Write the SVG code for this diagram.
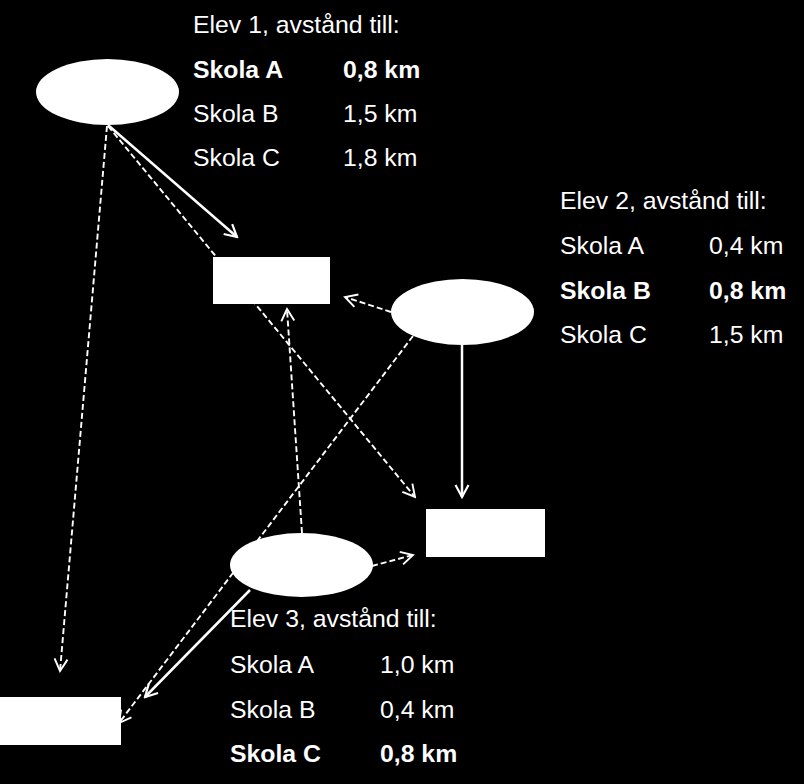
<svg xmlns="http://www.w3.org/2000/svg" width="804" height="784" viewBox="0 0 804 784">
<defs>
<style>
.t{font-family:"Liberation Sans",Arial,sans-serif;font-size:24.8px;fill:#fff}
.b{font-weight:bold}
.s{stroke:#fff;stroke-width:2.5;fill:none}
.d{stroke:#fff;stroke-width:1.9;stroke-dasharray:6,3;fill:none}
.n{fill:#fff}
</style>
<marker id="ah" markerUnits="userSpaceOnUse" markerWidth="16" markerHeight="16" viewBox="0 0 16 16" refX="14" refY="8" orient="auto">
<path d="M2,1.5 L14,8 L2,14.5" fill="none" stroke="#fff" stroke-width="2.2"/>
</marker>
<marker id="ahs" markerUnits="userSpaceOnUse" markerWidth="16" markerHeight="16" viewBox="0 0 16 16" refX="14" refY="8" orient="auto">
<path d="M2,1.5 L14,8 L2,14.5" fill="none" stroke="#fff" stroke-width="1.9"/>
</marker>
</defs>
<rect width="804" height="784" fill="#000"/>
<g id="connectors">
<line class="s" x1="108" y1="125" x2="237" y2="237" marker-end="url(#ah)"/>
<line class="d" x1="108" y1="126" x2="415" y2="497" marker-end="url(#ahs)"/>
<line class="d" x1="107" y1="126" x2="60" y2="671" marker-end="url(#ahs)"/>
<line class="d" x1="391" y1="312" x2="345" y2="297" marker-end="url(#ahs)"/>
<line class="d" x1="413" y1="336" x2="119" y2="723" marker-end="url(#ahs)"/>
<line class="s" x1="462" y1="345" x2="462" y2="497" marker-end="url(#ah)"/>
<line class="d" x1="372" y1="566" x2="413" y2="555" marker-end="url(#ahs)"/>
<line class="d" x1="302" y1="533" x2="287" y2="309" marker-end="url(#ahs)"/>
<line class="s" x1="250" y1="590" x2="145" y2="697" marker-end="url(#ah)"/>
</g>
<g id="elev1"><ellipse class="n" cx="107.5" cy="92" rx="71.5" ry="33"/></g>
<g id="elev2"><ellipse class="n" cx="462.5" cy="312" rx="71.5" ry="33"/></g>
<g id="elev3"><ellipse class="n" cx="301.5" cy="565" rx="71.5" ry="32"/></g>
<g id="skolaA"><rect class="n" x="213" y="257" width="117" height="47"/></g>
<g id="skolaB"><rect class="n" x="426" y="509" width="119" height="48"/></g>
<g id="skolaC"><rect class="n" x="0" y="697" width="121" height="48"/></g>
<g id="text1">
<text class="t" x="193" y="33">Elev 1, avstånd till:</text>
<text class="t b" x="193" y="78">Skola A</text><text class="t b" x="343" y="78">0,8 km</text>
<text class="t" x="193" y="122">Skola B</text><text class="t" x="343" y="122">1,5 km</text>
<text class="t" x="193" y="166">Skola C</text><text class="t" x="343" y="166">1,8 km</text>
</g>
<g id="text2">
<text class="t" x="560" y="209">Elev 2, avstånd till:</text>
<text class="t" x="560" y="254">Skola A</text><text class="t" x="709" y="254">0,4 km</text>
<text class="t b" x="560" y="299">Skola B</text><text class="t b" x="709" y="299">0,8 km</text>
<text class="t" x="560" y="343">Skola C</text><text class="t" x="709" y="343">1,5 km</text>
</g>
<g id="text3">
<text class="t" x="230" y="627">Elev 3, avstånd till:</text>
<text class="t" x="230" y="673">Skola A</text><text class="t" x="380" y="673">1,0 km</text>
<text class="t" x="230" y="718">Skola B</text><text class="t" x="380" y="718">0,4 km</text>
<text class="t b" x="230" y="762">Skola C</text><text class="t b" x="380" y="762">0,8 km</text>
</g>
</svg>
